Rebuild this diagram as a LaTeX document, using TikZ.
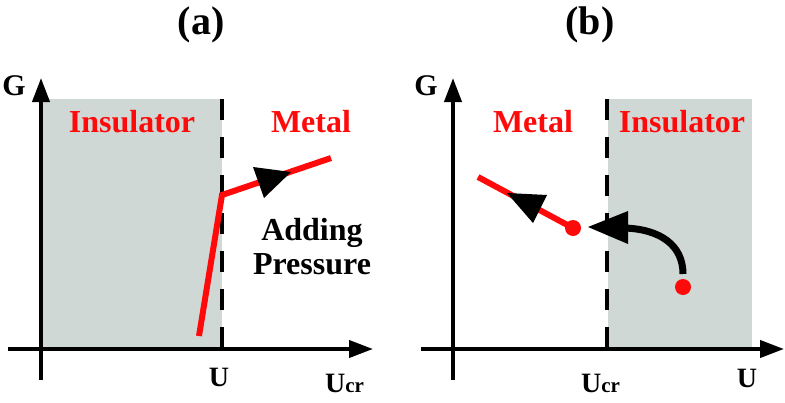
\documentclass[tikz,border=0pt]{standalone}
\usepackage{fontspec}
\setmainfont{Liberation Serif}
\usetikzlibrary{arrows.meta}
\definecolor{bgshade}{RGB}{208,216,214}
\definecolor{myred}{RGB}{255,10,10}
\tikzset{
  axis/.style={line width=4pt,-{Triangle[length=24pt,width=17pt]}},
  crit/.style={line width=4pt,dash pattern=on 21pt off 17pt},
  redpath/.style={myred,line width=6pt},
  lbl/.style={inner sep=0pt,font=\bfseries\fontsize{32}{36}\selectfont},
  axlbl/.style={inner sep=0pt,font=\bfseries\fontsize{28}{32}\selectfont},
  glbl/.style={inner sep=0pt,font=\bfseries\fontsize{30}{34}\selectfont},
  ttl/.style={inner sep=0pt,font=\bfseries\fontsize{40}{44}\selectfont},
  tri/.style={fill=black},
  dot/.style={circle,fill=myred,inner sep=0pt,minimum size=16pt}
}
\newcommand{\ucr}{U{\fontsize{21}{24}\selectfont cr}}
\begin{document}
\begin{tikzpicture}[x=1pt,y=-1pt]
\useasboundingbox (0,0) rectangle (785,402);
% ---------- panel (a) ----------
\fill[bgshade] (41,99) rectangle (222,349);
\node[ttl] (ta) at (201,25) {(a)};
\coordinate (ya0) at (41,380);
\coordinate (ya1) at (41,78);
\coordinate (xa0) at (8,349);
\coordinate (xa1) at (373,349);
\draw[axis] (ya0) -- (ya1);
\draw[axis] (xa0) -- (xa1);
\coordinate (da0) at (222,99);
\coordinate (da1) at (222,349);
\draw[crit] (da0) -- (da1);
\node[glbl] (ga) at (14,86) {G};
\node[axlbl] (ua) at (219,377) {U};
\node[axlbl,anchor=base west] (ucra) at (325,392) {\ucr};
\node[lbl,myred] (ins1) at (132,122) {Insulator};
\node[lbl,myred] (met1) at (311,122) {Metal};
\node[lbl,align=center] (press) at (312,247) {Adding\\[-2pt]Pressure};
\coordinate (pa0) at (199,336);
\coordinate (pa1) at (222,195);
\coordinate (pa2) at (331,158);
\draw[redpath,line join=miter] (pa0) -- (pa1) -- (pa2);
\fill[tri] (291,172) -- (264,198) -- (253,167) -- cycle;
% ---------- panel (b) ----------
\fill[bgshade] (608,99) rectangle (752,349);
\node[ttl] (tb) at (590,25) {(b)};
\coordinate (yb0) at (453,380);
\coordinate (yb1) at (453,78);
\coordinate (xb0) at (421,349);
\coordinate (xb1) at (784,349);
\draw[axis] (yb0) -- (yb1);
\draw[axis] (xb0) -- (xb1);
\coordinate (db0) at (607,99);
\coordinate (db1) at (607,349);
\draw[crit] (db0) -- (db1);
\node[glbl] (gb) at (426,86) {G};
\node[axlbl,anchor=base west] (ucrb) at (581,392) {\ucr};
\node[axlbl] (ub) at (747,378) {U};
\node[lbl,myred] (met2) at (533,122) {Metal};
\node[lbl,myred] (ins2) at (682,122) {Insulator};
\coordinate (pb0) at (478,177);
\node[dot] (d1) at (573,228) {};
\draw[redpath] (pb0) -- (d1.center);
\fill[tri] (507,193) -- (547,195) -- (533,223) -- cycle;
\node[dot] (d2) at (683,287) {};
\coordinate (cs) at (683,274);
\coordinate (ce) at (624,228);
\draw[line width=7pt] (cs) .. controls (683,245) and (660,229) .. (ce);
\fill[tri] (588,227) -- (628,211) -- (628,244) -- cycle;
\end{tikzpicture}
\end{document}
